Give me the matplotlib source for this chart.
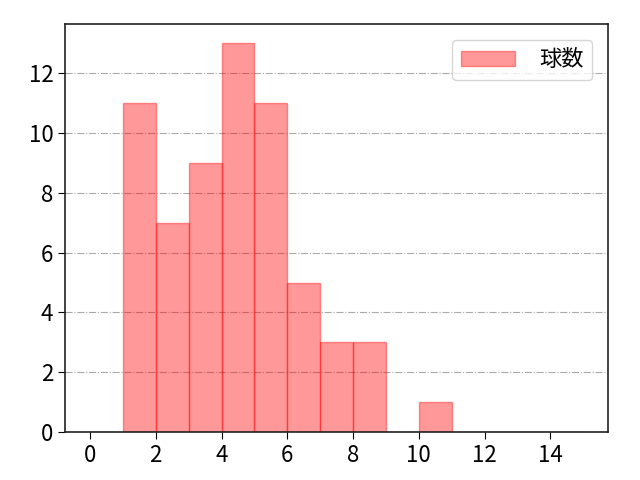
import matplotlib
matplotlib.use("Agg")
import matplotlib.pyplot as plt

plt.rcParams['font.family'] = ['Noto Sans CJK JP', 'DejaVu Sans']

# bins of width 1 from 0 to 15
bin_left = list(range(0, 15))
counts = [0, 11, 7, 9, 13, 11, 5, 3, 3, 0, 1, 0, 0, 0, 0]

fig, ax = plt.subplots(figsize=(6.4, 4.8), dpi=100)
fig.subplots_adjust(left=0.102, right=0.95, top=0.95, bottom=0.1)

ax.bar(bin_left, counts, width=1, align='edge', color='red', alpha=0.4,
       edgecolor='red', label='球数')
ax.set_xticks(range(0, 15, 2))
ax.grid(axis='y', linestyle='-.', color='#aaaaaa')
ax.set_axisbelow(True)
ax.tick_params(labelsize=16, length=5)
for s in ax.spines.values():
    s.set_color('#222222')
    s.set_linewidth(1.2)
ax.legend(loc='upper right', fontsize=16, handletextpad=1.1, handlelength=2.4,
          borderaxespad=0.7)

fig.savefig('out.png')
